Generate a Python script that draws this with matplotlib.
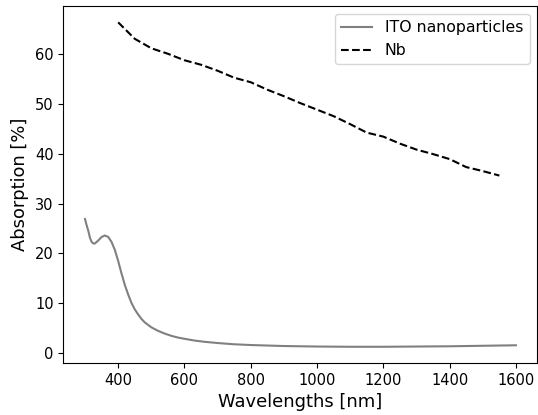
import numpy as np
import matplotlib
matplotlib.use("Agg")
import matplotlib.pyplot as plt

# ITO nanoparticles absorption
ito_wl = [300, 305, 310, 315, 320, 325, 330, 340, 350, 360, 370, 380, 390,
          400, 410, 420, 430, 440, 450, 460, 470, 480, 490, 500, 520, 540,
          560, 580, 600, 630, 660, 700, 750, 800, 900, 1000, 1100, 1200,
          1300, 1400, 1500, 1600]
ito_abs = [26.9, 25.6, 24.5, 23.1, 22.3, 22.0, 22.0, 22.6, 23.3, 23.6, 23.3,
           22.3, 20.7, 18.5, 16.0, 13.7, 11.8, 10.1, 8.8, 7.8, 6.9, 6.2, 5.7,
           5.2, 4.5, 3.95, 3.5, 3.15, 2.9, 2.55, 2.3, 2.05, 1.8, 1.65, 1.45,
           1.35, 1.3, 1.3, 1.35, 1.4, 1.5, 1.6]

# Nb absorption
nb_wl = [400, 450, 500, 550, 600, 650, 700, 750, 800, 850, 900, 950, 1000,
         1050, 1100, 1150, 1200, 1250, 1300, 1350, 1400, 1450, 1500, 1550]
nb_abs = [66.3, 63.0, 61.1, 60.0, 58.7, 57.8, 56.6, 55.2, 54.3, 52.8, 51.5,
          50.1, 48.8, 47.5, 45.9, 44.2, 43.4, 42.0, 40.8, 39.9, 38.9, 37.3,
          36.5, 35.6]

fig = plt.figure(figsize=(5.38, 4.15), dpi=100)
ax = fig.add_axes([0.118, 0.1253, 0.881, 0.860])

ax.plot(ito_wl, ito_abs, color='gray', lw=1.5, label='ITO nanoparticles')
ax.plot(nb_wl, nb_abs, color='black', ls='--', lw=1.5, label='Nb')

ax.set_xlabel('Wavelengths [nm]', fontsize=12.9)
ax.set_ylabel('Absorption [%]', fontsize=12.9)
ax.tick_params(labelsize=10.5)
ax.legend(loc='upper right', fontsize=11.3)

fig.savefig('out.png', dpi=100)
